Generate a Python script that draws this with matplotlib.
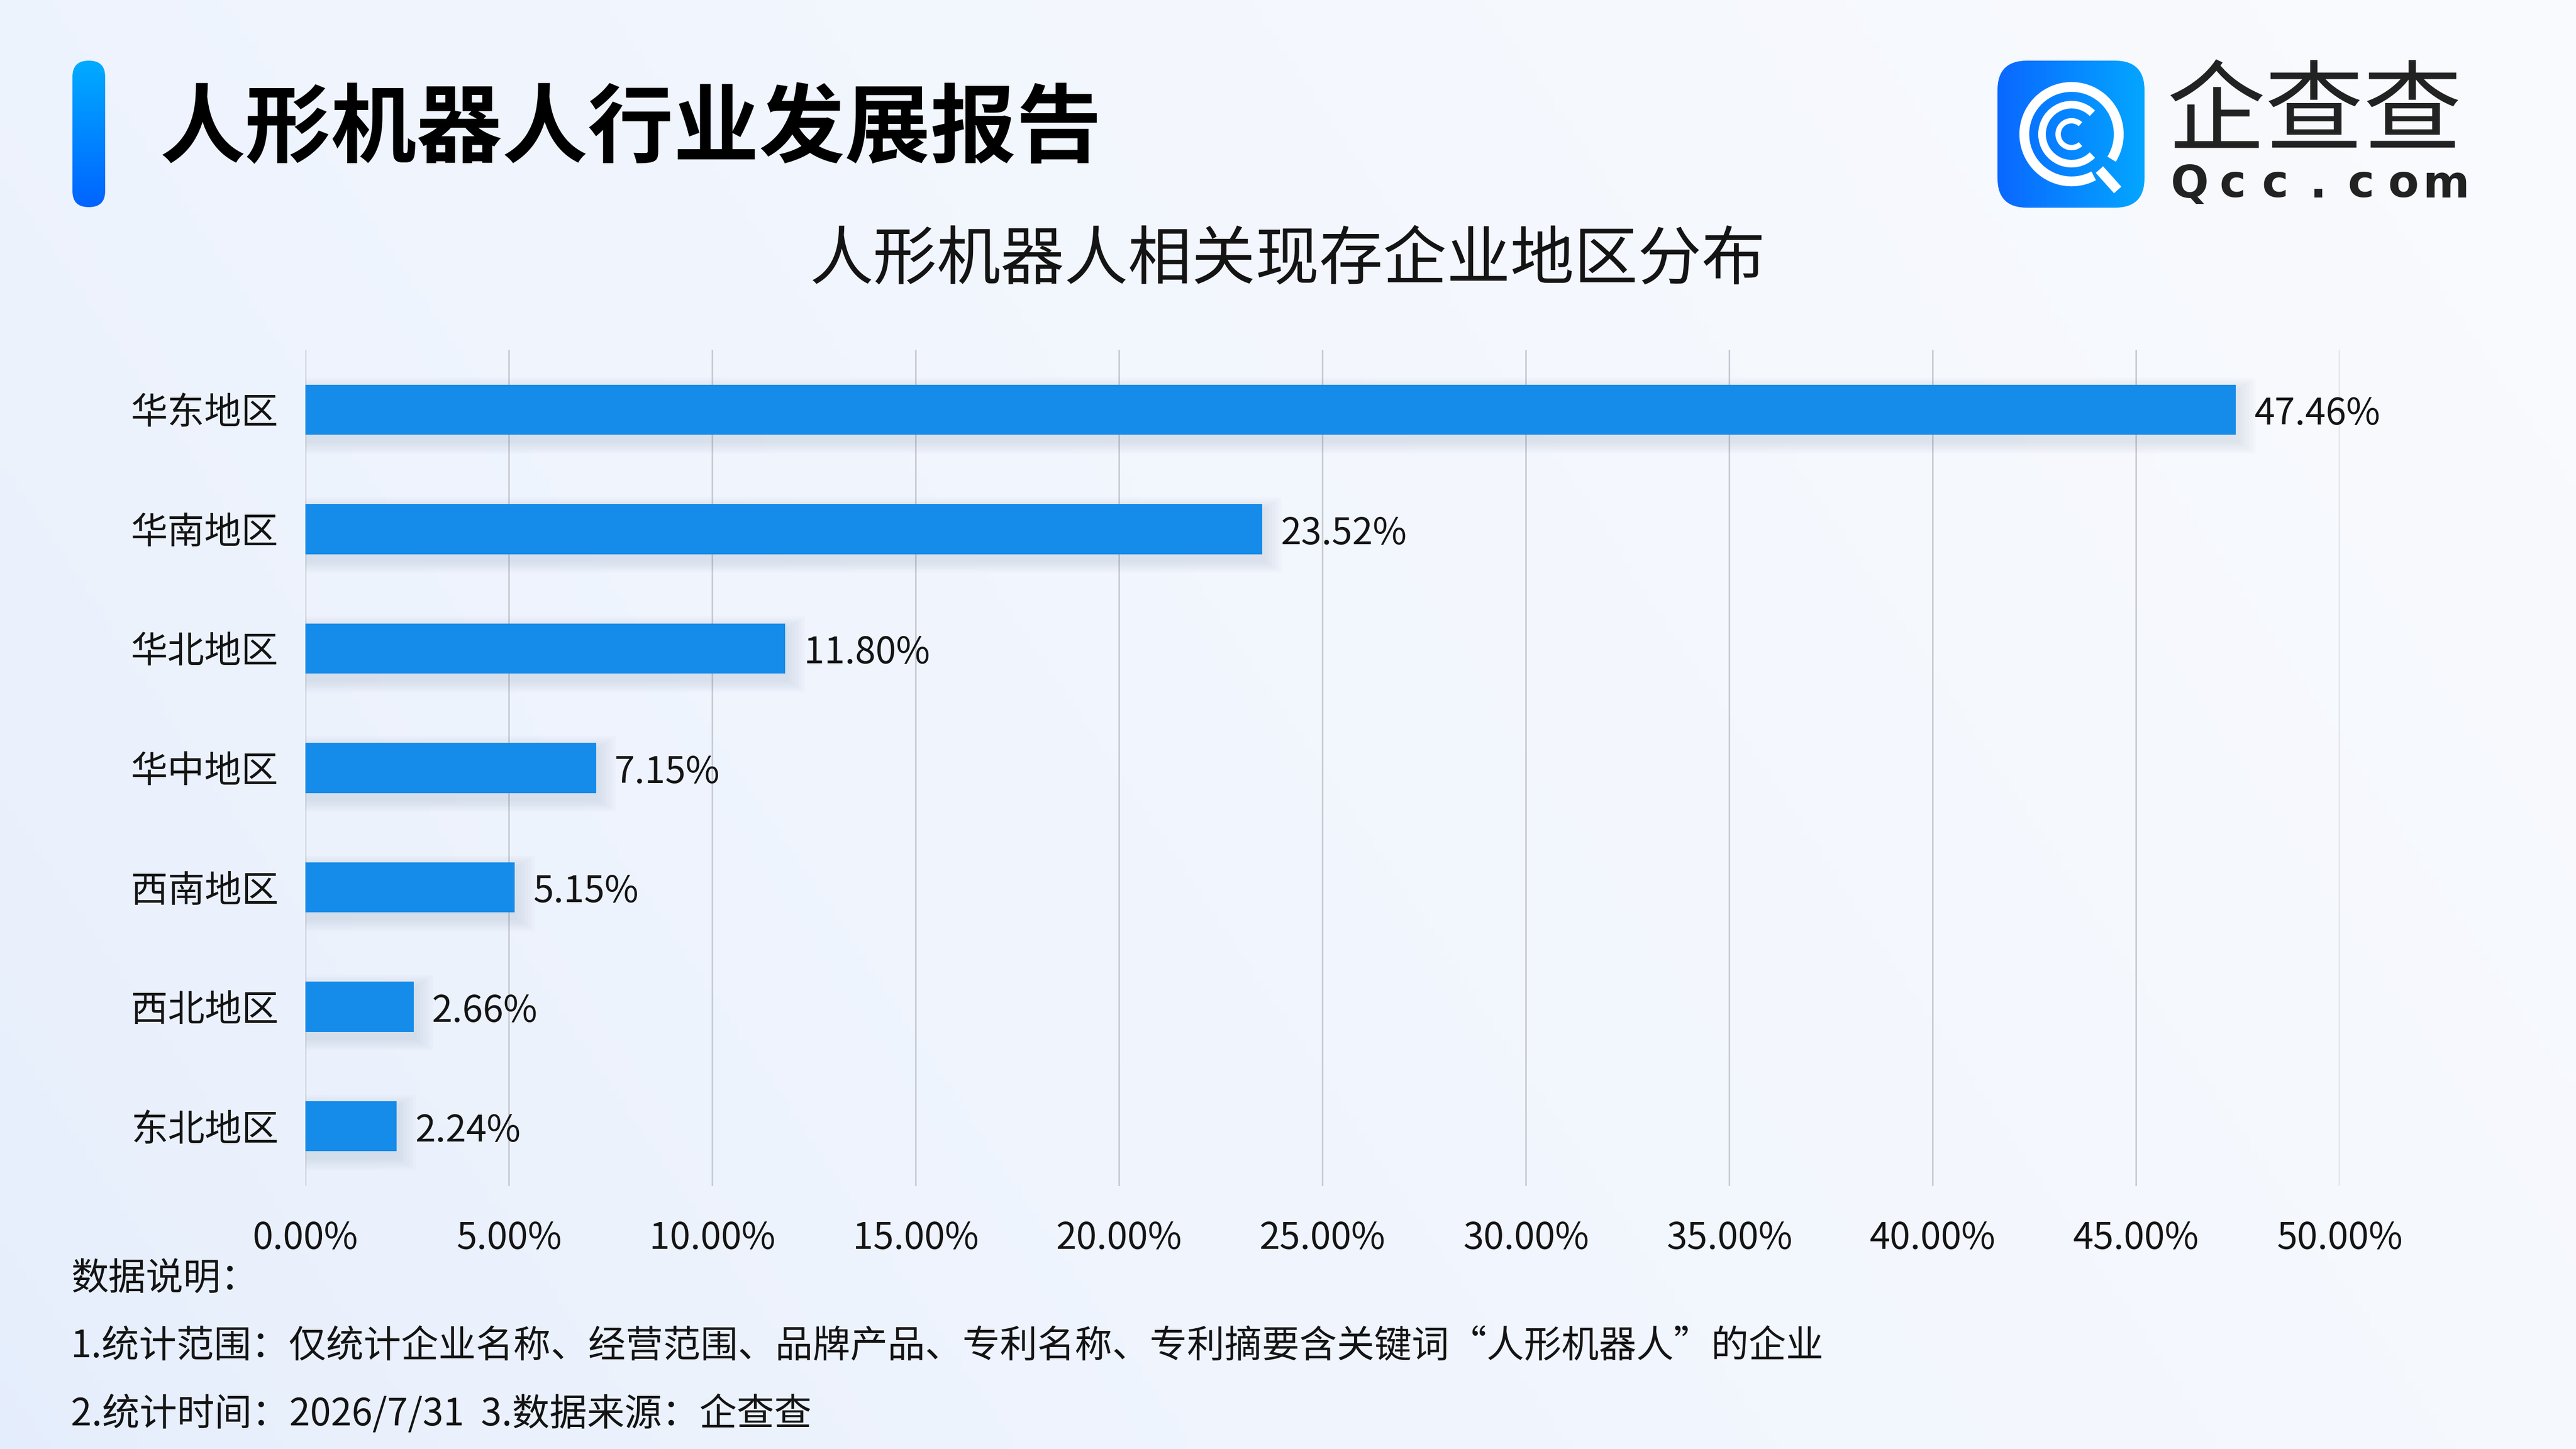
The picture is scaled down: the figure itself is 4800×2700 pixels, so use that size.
import numpy as np
import matplotlib
matplotlib.use("Agg")
import matplotlib.pyplot as plt
from matplotlib.patches import FancyBboxPatch, Arc
from matplotlib.colors import LinearSegmentedColormap

plt.rcParams['font.family'] = ['Noto Sans CJK SC', 'DejaVu Sans']

# data
regions = ['华东地区', '华南地区', '华北地区', '华中地区', '西南地区', '西北地区', '东北地区']
shares = [47.46, 23.52, 11.80, 7.15, 5.15, 2.66, 2.24]
x_ticks = [0, 5, 10, 15, 20, 25, 30, 35, 40, 45, 50]
x_tick_labels = ['0.00%', '5.00%', '10.00%', '15.00%', '20.00%', '25.00%',
                 '30.00%', '35.00%', '40.00%', '45.00%', '50.00%']

title = '人形机器人行业发展报告'
subtitle = '人形机器人相关现存企业地区分布'
notes = ['数据说明：',
         '1.统计范围：仅统计企业名称、经营范围、品牌产品、专利名称、专利摘要含关键词“人形机器人”的企业',
         '2.统计时间：2026/7/31  3.数据来源：企查查']

bar_color = '#158BEA'
text_color = '#141414'

fig = plt.figure(figsize=(16, 9), dpi=300)

# background layer in pixel coordinates
bg = fig.add_axes([0, 0, 1, 1])
gx, gy = np.meshgrid(np.linspace(0, 1, 300), np.linspace(0, 1, 170))
t = np.clip(0.8 * gx + 0.3 * (1 - gy), 0, 1) ** 0.6
c1 = np.array([0xE4, 0xED, 0xFC]) / 255
c2 = np.array([0xF8, 0xFA, 0xFE]) / 255
img = c1[None, None, :] + (c2 - c1)[None, None, :] * t[:, :, None]
bg.imshow(img, extent=[0, 4800, 2700, 0], aspect='auto', zorder=0)

# title marker
bar_cmap = LinearSegmentedColormap.from_list('tb', ['#00ABFF', '#0064FF'])
im = bg.imshow(np.linspace(0, 1, 100)[:, None], cmap=bar_cmap,
               extent=[135, 196, 386, 113], aspect='auto', zorder=2)
clip = FancyBboxPatch((135, 113), 61, 273, boxstyle='round,pad=0,rounding_size=30',
                      facecolor='none', edgecolor='none', transform=bg.transData)
bg.add_patch(clip)
im.set_clip_path(clip)

bg.text(297, 244, title, fontsize=38.3, fontweight='bold', color='#000000',
        va='center', ha='left', zorder=3)

# logo
logo_cmap = LinearSegmentedColormap.from_list('lg', ['#0A68FF', '#03A6FF'])
im2 = bg.imshow(np.linspace(0, 1, 100)[None, :], cmap=logo_cmap,
                extent=[3722, 3996, 387, 113], aspect='auto', zorder=2)
clip2 = FancyBboxPatch((3722, 113), 274, 274, boxstyle='round,pad=0,rounding_size=55',
                       facecolor='none', edgecolor='none', transform=bg.transData)
bg.add_patch(clip2)
im2.set_clip_path(clip2)
cx, cy = 3860, 250
bg.add_patch(Arc((cx, cy), 176, 176, theta1=62, theta2=392, lw=4.4, color='white', zorder=4))
bg.add_patch(Arc((cx, cy), 110, 110, theta1=45, theta2=315, lw=3.4, color='white', zorder=4))
bg.add_patch(Arc((cx, cy), 50, 50, theta1=48, theta2=312, lw=2.4, color='white', zorder=4))
bg.plot([3912, 3946], [316, 354], color='white', lw=4.4, solid_capstyle='butt', zorder=4)

bg.text(4038, 214, '企查查', fontsize=44, color='#222222', va='center', ha='left', zorder=3)
for ch, xp in zip('Qcc.com', np.linspace(4080, 4558, 7)):
    bg.text(xp, 344, ch, fontsize=20, fontweight='semibold', color='#222222',
            va='center', ha='center', family='DejaVu Sans', zorder=3)

bg.set_xlim(0, 4800)
bg.set_ylim(2700, 0)
bg.axis('off')

# subtitle
fig.text(0.5, 1 - 487 / 2700, subtitle, fontsize=28.5, color=text_color,
         ha='center', va='center')

# chart
ax = fig.add_axes([569 / 4800, 1 - 2210 / 2700, 3790 / 4800, 1558 / 2700])
ax.patch.set_alpha(0)
y = np.arange(len(regions))

# soft shadow under bars
for k in range(1, 7):
    ax.barh(y + 0.05, np.array(shares) + 0.08 * k, height=0.42 + 0.035 * k,
            color='#5A6E9A', alpha=0.025, zorder=2, linewidth=0)
ax.barh(y, shares, height=0.42, color=bar_color, zorder=3, linewidth=0)

for i, v in enumerate(shares):
    ax.text(v + 0.45, i + 0.04, f'{v:.2f}%', va='center', ha='left',
            fontsize=16.5, color=text_color, zorder=4)

ax.set_xlim(0, 50)
ax.set_ylim(6.5, -0.5)
ax.set_xticks(x_ticks)
ax.set_xticklabels(x_tick_labels, fontsize=16.5, color=text_color)
ax.set_yticks(y)
ax.set_yticklabels(regions, fontsize=16.5, color=text_color)
ax.tick_params(axis='both', length=0)
ax.tick_params(axis='x', pad=15)
ax.tick_params(axis='y', pad=12)
ax.grid(axis='x', color='#C9CCD3', lw=0.7)
ax.set_axisbelow(True)
for s in ax.spines.values():
    s.set_visible(False)

# notes
for txt, yp in zip(notes, [2384, 2510, 2636]):
    bg.text(132, yp, txt, fontsize=16.75, color=text_color, va='center', ha='left', zorder=3)

fig.savefig('out.png', dpi=300)
